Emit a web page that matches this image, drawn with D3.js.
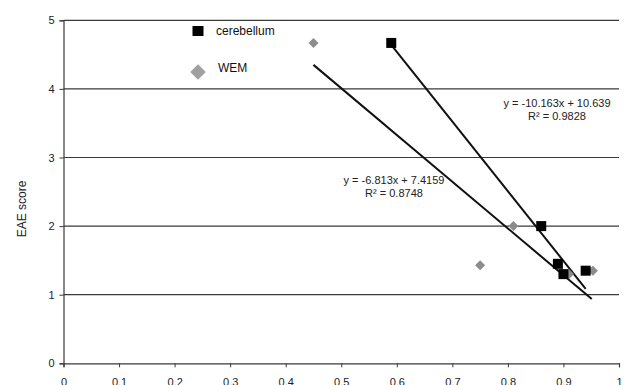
<!DOCTYPE html>
<html>
<head>
<meta charset="utf-8">
<script src="https://cdn.jsdelivr.net/npm/d3@7"></script>
<style>
    body { margin: 0; background: #fff; }
    svg { display: block; font-family: "Liberation Sans", Arial, sans-serif; }
</style>
</head>
<body>
<svg width="628" height="385"></svg>
<script>
// Данные
const cerebellumX = [0.59, 0.86, 0.89, 0.90, 0.94];
const cerebellumY = [4.67, 2.0, 1.45, 1.3, 1.35];
const wemX = [0.45, 0.81, 0.75, 0.91, 0.953];
const wemY = [4.67, 2.0, 1.43, 1.3, 1.35];

// Линии тренда: [наклон, сдвиг, x начала, x конца]
const cerebellumTrend = [-10.163, 10.639, 0.59, 0.94];
const wemTrend = [-6.813, 7.4159, 0.45, 0.951];

const xTicks = [0, 0.1, 0.2, 0.3, 0.4, 0.5, 0.6, 0.7, 0.8, 0.9, 1];
const yTicks = [0, 1, 2, 3, 4, 5];

const svg = d3.select("svg");

const attrArea = { left: 63.5, right: 619, top: 20.3, bottom: 363.3 };

const scaleX = d3.scaleLinear().domain([0, 1]).range([attrArea.left, attrArea.right]);
const scaleY = d3.scaleLinear().domain([0, 5]).range([attrArea.bottom, attrArea.top]);

// горизонтальные линии сетки
svg.append("g")
    .selectAll("line")
    .data(yTicks.filter(d => d > 0))
    .enter()
    .append("line")
    .attr("x1", attrArea.left)
    .attr("x2", attrArea.right)
    .attr("y1", d => scaleY(d))
    .attr("y2", d => scaleY(d))
    .attr("stroke", "#3a3a3a")
    .attr("stroke-width", 1.2);

const axisX = d3.axisBottom(scaleX)
    .tickValues(xTicks)
    .tickSize(4)
    .tickFormat(d => String(d));

const axisY = d3.axisLeft(scaleY)
    .tickValues(yTicks)
    .tickSize(4)
    .tickFormat(d3.format("d"));

const gx = svg.append("g")
    .attr("transform", `translate(0, ${attrArea.bottom})`)
    .call(axisX);

const gy = svg.append("g")
    .attr("transform", `translate(${attrArea.left}, 0)`)
    .call(axisY);

[gx, gy].forEach(g => {
    g.select(".domain").attr("stroke", "#3a3a3a").attr("stroke-width", 1.2);
    g.selectAll(".tick line").attr("stroke", "#3a3a3a");
    g.selectAll("text")
        .attr("fill", "#222")
        .style("font-size", "11px")
        .style("font-family", "Liberation Sans, Arial, sans-serif");
});
gx.selectAll("text").attr("y", 15).attr("dy", "0.71em");
gy.selectAll("text").attr("x", -9);

// подпись оси Y
svg.append("text")
    .attr("transform", "translate(26, 209) rotate(-90)")
    .attr("text-anchor", "middle")
    .style("font-size", "12px")
    .attr("fill", "#222")
    .text("EAE  score");

// линии тренда
function drawTrend(trend) {
    const pts = [trend[2], trend[3]].map(x => [x, trend[0] * x + trend[1]]);
    svg.append("path")
        .datum(pts)
        .attr("fill", "none")
        .attr("stroke", "#111")
        .attr("stroke-width", 2)
        .attr("d", d3.line().x(d => scaleX(d[0])).y(d => scaleY(d[1])));
}
drawTrend(wemTrend);
drawTrend(cerebellumTrend);

// точки WEM (ромбы)
const diamond = d3.symbol().type(d3.symbolSquare).size(50);
svg.append("g")
    .selectAll("path")
    .data(wemX.map((x, i) => [x, wemY[i]]))
    .enter()
    .append("path")
    .attr("d", diamond)
    .attr("transform", d => `translate(${scaleX(d[0])}, ${scaleY(d[1])}) rotate(45)`)
    .attr("fill", "#8c8c8c");

// точки cerebellum (квадраты)
svg.append("g")
    .selectAll("rect")
    .data(cerebellumX.map((x, i) => [x, cerebellumY[i]]))
    .enter()
    .append("rect")
    .attr("x", d => scaleX(d[0]) - 5)
    .attr("y", d => scaleY(d[1]) - 5)
    .attr("width", 10)
    .attr("height", 10)
    .attr("fill", "#000");

// уравнения трендов
function drawLabel(lines, x, y) {
    svg.append("g")
        .selectAll("text")
        .data(lines)
        .enter()
        .append("text")
        .attr("x", x)
        .attr("y", (d, i) => y + i * 13)
        .attr("text-anchor", "middle")
        .style("font-size", "11px")
        .attr("fill", "#222")
        .text(d => d);
}
drawLabel(["y = -10.163x + 10.639", "R² = 0.9828"], 557, 107);
drawLabel(["y = -6.813x + 7.4159", "R² = 0.8748"], 394, 184);

// легенда
const legend = svg.append("g");
legend.append("rect")
    .attr("x", 192.5).attr("y", 26)
    .attr("width", 11).attr("height", 10)
    .attr("fill", "#000");
legend.append("path")
    .attr("d", d3.symbol().type(d3.symbolSquare).size(120))
    .attr("transform", "translate(198, 72) rotate(45)")
    .attr("fill", "#a0a0a0");
legend.append("text")
    .attr("x", 216).attr("y", 35)
    .style("font-size", "12px")
    .attr("fill", "#111")
    .text("cerebellum");
legend.append("text")
    .attr("x", 218).attr("y", 72)
    .style("font-size", "12px")
    .attr("fill", "#111")
    .text("WEM");
</script>
</body>
</html>
